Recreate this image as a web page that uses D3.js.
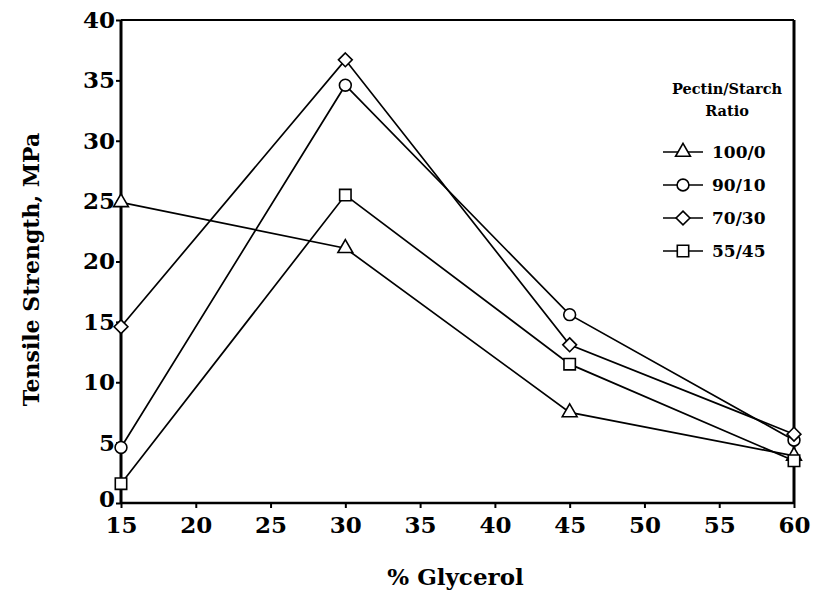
<!DOCTYPE html>
<html>
<head>
<meta charset="utf-8">
<script src="https://cdn.jsdelivr.net/npm/d3@7"></script>
<style>
  body { margin: 0; background: #fff; }
  text { font-family: "DejaVu Serif", serif; font-weight: bold; fill: #000; }
</style>
</head>
<body>
<div id="chart"></div>
<script>
// data
var glycerol = [15, 30, 45, 60];
var ratios = ['100/0', '90/10', '70/30', '55/45'];
var symbols = ['triangle', 'circle', 'diamond', 'square'];
var s100_0 = [24.9, 21.1, 7.5, 3.9];
var s90_10 = [4.6, 34.6, 15.6, 5.2];
var s70_30 = [14.6, 36.7, 13.1, 5.7];
var s55_45 = [1.6, 25.5, 11.5, 3.5];
var seriesValues = [s100_0, s90_10, s70_30, s55_45];
var xTicks = [15, 20, 25, 30, 35, 40, 45, 50, 55, 60];
var yTicks = [0, 5, 10, 15, 20, 25, 30, 35, 40];

var W = 814, H = 594;
var margin = { top: 20, right: 20, bottom: 91, left: 121 };
var width = W - margin.left - margin.right,
    height = H - margin.top - margin.bottom;

var svg = d3.select('#chart').append('svg').attr('width', W).attr('height', H);
var g = svg.append('g').attr('transform', 'translate(' + margin.left + ',' + margin.top + ')');

var x = d3.scaleLinear().domain([15, 60]).range([0, width]);
var y = d3.scaleLinear().domain([0, 40]).range([height, 0]);

// axes
var xAxis = d3.axisBottom(x).tickValues(xTicks).tickSize(5).tickPadding(9);
var yAxis = d3.axisLeft(y).tickValues(yTicks).tickSize(5).tickPadding(1);

var gx = g.append('g').attr('transform', 'translate(0,' + height + ')').call(xAxis);
var gy = g.append('g').call(yAxis);
[gx, gy].forEach(function (a) {
  a.select('.domain').remove();
  a.selectAll('.tick line').attr('stroke', '#000').attr('stroke-width', 2);
  a.selectAll('.tick text').style('font-size', '23px').style('font-family', '"DejaVu Serif", serif').style('font-weight', 'bold');
});
gy.selectAll('.tick text').attr('dy', function (d) { return d === 0 ? '0.16em' : '0.32em'; });

// frame
g.append('line').attr('x1', 0).attr('x2', width).attr('y1', 0).attr('y2', 0).attr('stroke', '#000').attr('stroke-width', 2);
g.append('line').attr('x1', 0).attr('x2', width).attr('y1', height).attr('y2', height).attr('stroke', '#000').attr('stroke-width', 2.5);
g.append('line').attr('x1', 0).attr('x2', 0).attr('y1', 0).attr('y2', height).attr('stroke', '#000').attr('stroke-width', 3);
g.append('line').attr('x1', width).attr('x2', width).attr('y1', 0).attr('y2', height).attr('stroke', '#000').attr('stroke-width', 3);

// axis titles
svg.append('text').attr('x', margin.left + width / 2 - 2).attr('y', 585)
  .attr('text-anchor', 'middle').style('font-size', '23px').text('% Glycerol');
svg.append('text').attr('transform', 'translate(39,' + (margin.top + height / 2 + 8) + ') rotate(-90)')
  .attr('text-anchor', 'middle').style('font-size', '22px').text('Tensile Strength, MPa');

// square rotated 45 degrees, as drawn in the reference
var wideDiamond = {
  draw: function (ctx, size) {
    var r = Math.sqrt(size / 2);
    ctx.moveTo(0, -r); ctx.lineTo(r, 0); ctx.lineTo(0, r); ctx.lineTo(-r, 0); ctx.closePath();
  }
};
var symbolTypes = {
  triangle: d3.symbolTriangle,
  circle: d3.symbolCircle,
  diamond: wideDiamond,
  square: d3.symbolSquare
};
var symbolSizes = { triangle: 95, circle: 110, diamond: 95, square: 130 };

function marker(sel, type) {
  return sel.append('path')
    .attr('d', d3.symbol().type(symbolTypes[type]).size(symbolSizes[type]))
    .attr('fill', '#fff').attr('stroke', '#000').attr('stroke-width', 1.6);
}

var line = d3.line().x(function (d, i) { return x(glycerol[i]); }).y(function (d) { return y(d); });

seriesValues.forEach(function (vals, k) {
  g.append('path').datum(vals).attr('d', line)
    .attr('fill', 'none').attr('stroke', '#000').attr('stroke-width', 1.7);
});
seriesValues.forEach(function (vals, k) {
  vals.forEach(function (v, i) {
    marker(g, symbols[k]).attr('transform', 'translate(' + x(glycerol[i]) + ',' + y(v) + ')');
  });
});

// legend
var legend = svg.append('g').attr('transform', 'translate(683,0)');
legend.append('text').attr('x', 44).attr('y', 94).attr('text-anchor', 'middle').style('font-size', '14.5px').text('Pectin/Starch');
legend.append('text').attr('x', 44).attr('y', 116).attr('text-anchor', 'middle').style('font-size', '14.5px').text('Ratio');
ratios.forEach(function (r, k) {
  var ly = 152 + k * 33;
  legend.append('line').attr('x1', -20).attr('x2', 20).attr('y1', ly).attr('y2', ly).attr('stroke', '#000').attr('stroke-width', 1.7);
  marker(legend, symbols[k]).attr('transform', 'translate(0,' + ly + ')');
  legend.append('text').attr('x', 29).attr('y', ly + 6).style('font-size', '17px').text(r);
});
</script>
</body>
</html>
